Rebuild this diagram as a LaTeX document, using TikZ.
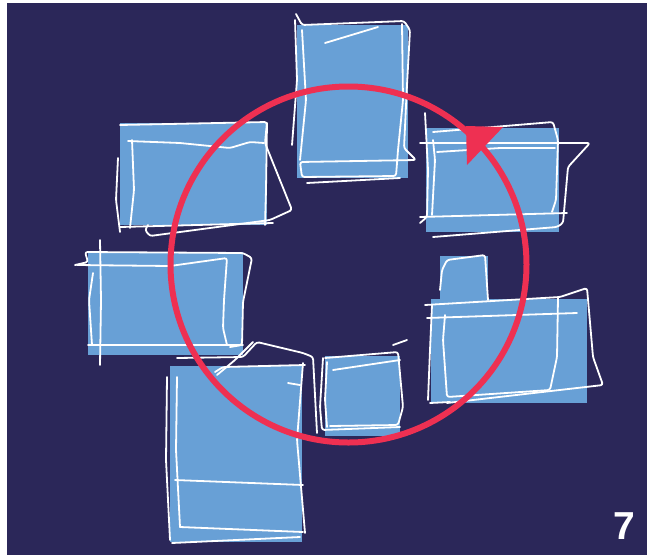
\documentclass[tikz,border=0pt]{standalone}
\usepackage{fontspec}
\setsansfont{Liberation Sans}
\usepackage{tikz}
\usetikzlibrary{calc}
\definecolor{navy}{HTML}{2B2759}
\definecolor{sheetblue}{HTML}{68A0D6}
\definecolor{loopred}{HTML}{EE3052}
\tikzset{
    sketch/.style={draw=white, line width=1.8pt, line cap=round, line join=round, rounded corners=2.5pt},
    sheetfill/.style={fill=sheetblue},
}
\newcommand{\sheet}[4]{\fill[sheetfill] (#1, #2) rectangle (#3, #4);}
\newcommand{\scribble}{\draw[sketch]}

\begin{document}
\begin{tikzpicture}[x=1pt, y=-1pt]
    % Draw background
    \useasboundingbox (0, 0) rectangle (647, 555);
    \fill[white] (0, 0) rectangle (647, 555);
    \fill[navy] (7, 3) rectangle (647, 555);

    % Draw sheets
    \sheet{297}{25}{408}{178}
    \sheet{120}{123}{267}{225}
    \sheet{426}{128}{559}{232}
    \sheet{88}{252}{243}{355}
    \sheet{440}{256}{488}{300}
    \sheet{431}{299}{587}{403}
    \sheet{325}{356}{400}{436}
    \sheet{170}{366}{302}{542}

    % Top sheet
    \scribble (296,14) -- (302,25) -- (404,21) -- (410,30) -- (407,85) -- (404,148) -- (416,160) -- (300,162) -- (302,177) -- (396,176) -- (398,150) -- (403,100) -- (402,24);
    \scribble (295,20) -- (297,80) -- (292,145);
    \scribble (302,30) -- (306,100) -- (300,160);
    \scribble (307,183) -- (400,178);
    \scribble (325,43) -- (378,27);

    % Upper left sheet
    \scribble (120,125) -- (267,122) -- (265,143) -- (292,210) -- (270,220) -- (150,236) -- (145,230) -- (148,225);
    \scribble (128,141) -- (180,143) -- (230,148) -- (250,142) -- (264,143);
    \scribble (120,227) -- (273,223);
    \scribble (118,158) -- (116,200) -- (120,232);
    \scribble (132,140) -- (134,190) -- (130,228);
    \scribble (267,123) -- (266,190) -- (265,225);

    % Upper right sheet
    \scribble (433,132) -- (553,122) -- (558,140) -- (556,200) -- (552,212);
    \scribble (420,143) -- (590,143) -- (568,167) -- (563,223) -- (557,227) -- (433,237);
    \scribble (437,152) -- (500,148) -- (555,148);
    \scribble (425,113) -- (428,170) -- (427,217) -- (420,223);
    \scribble (420,217) -- (567,213);
    \scribble (432,215) -- (435,160) -- (433,140);

    % Left sheet
    \scribble (75,265) -- (88,262) -- (85,252) -- (243,253) -- (252,258) -- (243,302) -- (242,345) -- (230,347);
    \scribble (77,265) -- (170,266) -- (227,258) -- (224,300) -- (223,328) -- (227,345);
    \scribble (93,273) -- (89,300) -- (92,345);
    \scribble (100,240) -- (101,300) -- (100,365);
    \scribble (88,345) -- (243,345);
    \scribble (253,342) -- (235,360) -- (217,375);

    % Right sheet
    \scribble (440,290) -- (442,270) -- (447,260) -- (485,255) -- (488,300);
    \scribble (425,305) -- (560,297) -- (587,288) -- (593,357) -- (603,385) -- (447,403);
    \scribble (427,318) -- (577,313);
    \scribble (445,315) -- (443,340) -- (447,397) -- (550,390) -- (557,357) -- (558,298);
    \scribble (432,305) -- (430,350) -- (428,400);
    \scribble (430,403) -- (450,402);

    % Bottom middle sheet
    \scribble (393,345) -- (407,340);
    \scribble (325,358) -- (398,352) -- (403,407) -- (398,425) -- (330,426);
    \scribble (323,358) -- (320,407) -- (322,430) -- (400,427);
    \scribble (327,362) -- (325,400) -- (327,427);
    \scribble (333,370) -- (400,360);

    % Bottom left sheet
    \scribble (177,358) -- (243,357) -- (257,342) -- (303,353) -- (313,357) -- (317,433);
    \scribble (215,372) -- (223,367) -- (305,365);
    \scribble (288,383) -- (300,385);
    \scribble (167,377) -- (166,460) -- (170,540);
    \scribble (177,377) -- (176,450) -- (180,527);
    \scribble (303,363) -- (297,440) -- (305,533);
    \scribble (175,480) -- (303,485);
    \scribble (180,527) -- (303,532);
    \scribble (172,543) -- (300,537);

    % Draw loop
    \draw[loopred, line width=6pt] (348.5,264.5) circle (178);
    \coordinate (tip) at (466,126);
    \fill[loopred] (tip) -- (503,127) -- (467,165) -- cycle;

    % Draw page number
    \node[white, font=\sffamily\bfseries\fontsize{39}{39}\selectfont] (pagenum) at (624,526) {7};
\end{tikzpicture}
\end{document}
